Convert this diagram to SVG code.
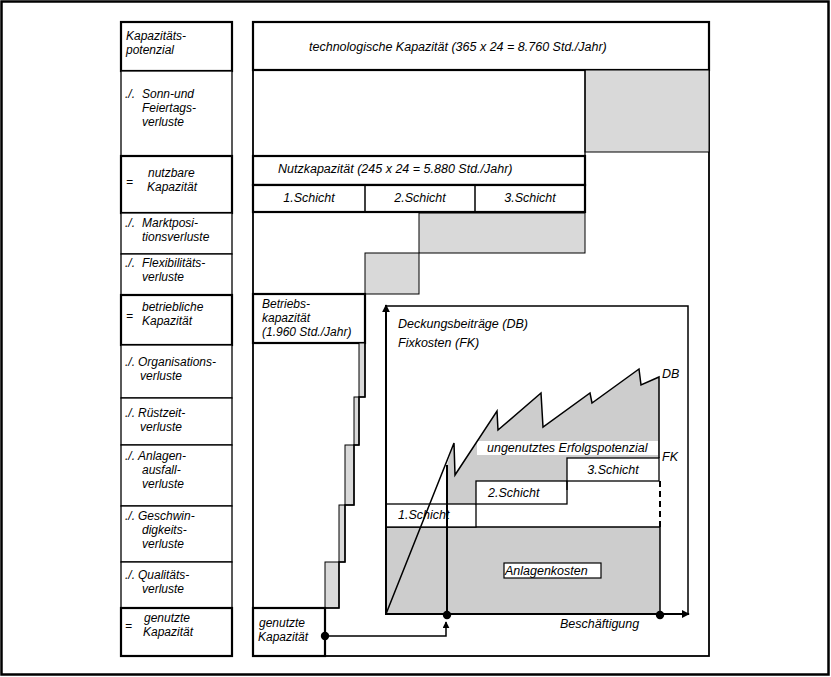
<svg xmlns="http://www.w3.org/2000/svg" width="831" height="677" viewBox="0 0 831 677">
<style>
text{font-family:"Liberation Sans",Arial,sans-serif;font-style:italic;font-size:12px;fill:#000}
.w{font-size:12.5px}
.b{fill:#fff;stroke:#000;stroke-width:1.3}
.t{fill:#fff;stroke:#000;stroke-width:2.2}
.g{fill:#d9d9d9;stroke:#000;stroke-width:1}
.g2{fill:#cdcdcd;stroke:#000;stroke-width:1.5}
.ln{fill:none;stroke:#000;stroke-width:1.5}
.c{text-anchor:middle}
</style>
<defs>
<marker id="ah" viewBox="0 0 10 10" refX="9" refY="5" markerWidth="8" markerHeight="8" markerUnits="userSpaceOnUse" orient="auto">
<path d="M0,0 L10,5 L0,10 Z" fill="#000"/>
</marker>
<marker id="ahs" viewBox="0 0 10 10" refX="9" refY="5" markerWidth="7" markerHeight="7" markerUnits="userSpaceOnUse" orient="auto">
<path d="M0,0 L10,5 L0,10 Z" fill="#000"/>
</marker>
</defs>
<rect x="0" y="0" width="831" height="677" fill="#fff"/>
<rect x="1.5" y="1.5" width="827" height="673" fill="none" stroke="#000" stroke-width="2.5"/>

<!-- left column -->
<g id="l-kapazitaetspotenzial">
<rect class="t" x="121" y="22" width="111" height="49"/>
<text x="126" y="40">Kapazitäts-</text>
<text x="126" y="54">potenzial</text>
</g>
<g id="l-sonn">
<rect class="b" x="121" y="71" width="111" height="85"/>
<text x="125" y="98">./.</text>
<text x="142" y="98">Sonn-und</text>
<text x="142" y="112">Feiertags-</text>
<text x="142" y="126">verluste</text>
</g>
<g id="l-nutzbare">
<rect class="t" x="121" y="156" width="111" height="57"/>
<text x="126" y="186">=</text>
<text x="148" y="177">nutzbare</text>
<text x="147" y="191">Kapazität</text>
</g>
<g id="l-markt">
<rect class="b" x="121" y="213" width="111" height="41"/>
<text x="125" y="227">./.</text>
<text x="142" y="227">Marktposi-</text>
<text x="142" y="241">tionsverluste</text>
</g>
<g id="l-flex">
<rect class="b" x="121" y="254" width="111" height="41"/>
<text x="125" y="267">./.</text>
<text x="142" y="267">Flexibilitäts-</text>
<text x="142" y="281">verluste</text>
</g>
<g id="l-betriebliche">
<rect class="t" x="121" y="295" width="111" height="50"/>
<text x="126" y="320">=</text>
<text x="142" y="311">betriebliche</text>
<text x="142" y="325">Kapazität</text>
</g>
<g id="l-organisation">
<rect class="b" x="121" y="345" width="111" height="53"/>
<text x="125" y="366">./.</text>
<text x="138" y="366">Organisations-</text>
<text x="140" y="380">verluste</text>
</g>
<g id="l-ruestzeit">
<rect class="b" x="121" y="398" width="111" height="47"/>
<text x="125" y="417">./.</text>
<text x="138" y="417">Rüstzeit-</text>
<text x="140" y="431">verluste</text>
</g>
<g id="l-anlagen">
<rect class="b" x="121" y="445" width="111" height="61"/>
<text x="125" y="460">./.</text>
<text x="138" y="460">Anlagen-</text>
<text x="142" y="474">ausfall-</text>
<text x="142" y="488">verluste</text>
</g>
<g id="l-geschwin">
<rect class="b" x="121" y="506" width="111" height="56"/>
<text x="125" y="520">./.</text>
<text x="138" y="520">Geschwin-</text>
<text x="142" y="534">digkeits-</text>
<text x="142" y="548">verluste</text>
</g>
<g id="l-qualitaet">
<rect class="b" x="121" y="562" width="111" height="46"/>
<text x="125" y="579">./.</text>
<text x="138" y="579">Qualitäts-</text>
<text x="142" y="593">verluste</text>
</g>
<g id="l-genutzte">
<rect class="t" x="121" y="608" width="111" height="48"/>
<text x="125" y="630">=</text>
<text x="144" y="622">genutzte</text>
<text x="143" y="636">Kapazität</text>
</g>

<!-- right main box -->
<g id="main">
<rect x="253" y="22" width="456" height="634" fill="#fff" stroke="#000" stroke-width="1.8"/>
</g>
<g id="technologische">
<rect class="t" x="253" y="22" width="456" height="48"/>
<text class="w" x="309" y="51">technologische Kapazität (365 x 24 = 8.760 Std./Jahr)</text>
</g>
<g id="sonn-verlust">
<rect class="g" x="585" y="70" width="124" height="82" stroke="none"/>
<line x1="585" y1="70" x2="585" y2="156" stroke="#000" stroke-width="1.3"/>
</g>
<g id="nutzkapazitaet">
<rect class="t" x="253" y="156" width="332" height="29"/>
<rect class="t" x="253" y="185" width="332" height="27"/>
<line x1="365" y1="185" x2="365" y2="212" stroke="#000" stroke-width="1.5"/>
<line x1="475" y1="185" x2="475" y2="212" stroke="#000" stroke-width="1.5"/>
<text class="w" x="278" y="173">Nutzkapazität (245 x 24 = 5.880 Std./Jahr)</text>
<text class="c w" x="309" y="202">1.Schicht</text>
<text class="c w" x="420" y="202">2.Schicht</text>
<text class="c w" x="530" y="202">3.Schicht</text>
</g>
<g id="markt-verlust">
<rect class="g" x="419" y="213" width="166" height="40"/>
</g>
<g id="flex-verlust">
<rect class="g" x="365" y="253" width="54" height="41"/>
</g>
<g id="betriebskapazitaet">
<rect class="t" x="253" y="294" width="112" height="49"/>
<text x="262" y="308">Betriebs-</text>
<text x="262" y="322">kapazität</text>
<text x="262" y="336">(1.960 Std./Jahr)</text>
</g>
<g id="stufen">
<rect class="g" x="359" y="343" width="6" height="54"/>
<rect class="g" x="354" y="397" width="5" height="48"/>
<rect class="g" x="345" y="445" width="9" height="60"/>
<rect class="g" x="339" y="505" width="6" height="57"/>
<rect class="g" x="325" y="562" width="14" height="46"/>
<path class="ln" d="M365,343 V397 H359 V445 H354 V505 H345 V562 H339 V608 H325"/>
</g>
<g id="genutzte-kapazitaet">
<rect class="t" x="253" y="608" width="72" height="48"/>
<text x="259" y="627">genutzte</text>
<text x="258" y="641">Kapazität</text>
</g>

<!-- chart -->
<g id="chart-frame">
<path class="ln" d="M386,306 H688 V614"/>
</g>
<g id="ungenutzt">
<polygon points="447,465 454,443 455,475 497,411 498,430 541,393 543,427 590,393 592,403 639,369 641,385 659,377 659,458 567,458 567,481 476,481 476,504 447,504" fill="#cdcdcd"/>
<rect x="477" y="441" width="181" height="14" fill="#fff"/>
<text class="w" x="487" y="452">ungenutztes Erfolgspotenzial</text>
</g>
<g id="anlagenkosten">
<rect class="g2" x="386" y="527" width="274" height="87"/>
<rect x="504" y="563" width="97" height="15" fill="#fff" stroke="#000" stroke-width="1.2"/>
<text class="w" x="505" y="575">Anlagenkosten</text>
</g>
<g id="schicht1">
<rect class="b" x="386" y="504" width="90" height="23"/>
<text class="w" x="398" y="519">1.Schicht</text>
</g>
<g id="schicht2">
<rect class="b" x="476" y="481" width="91" height="23"/>
<text class="w" x="488" y="497">2.Schicht</text>
</g>
<g id="schicht3">
<rect class="b" x="567" y="458" width="92" height="23"/>
<text class="c w" x="613" y="474">3.Schicht</text>
</g>
<g id="connectors">
<line x1="567" y1="481" x2="567" y2="490" stroke="#000" stroke-width="1.3"/>
<line x1="660" y1="481" x2="660" y2="527" stroke="#000" stroke-width="2" stroke-dasharray="6,4"/>
<path class="ln" d="M386,614 L454,443 L455,475 L497,411 L498,430 L541,393 L543,427 L590,393 L592,403 L639,369 L641,385 L659,377 L659,458"/>
<line x1="447" y1="465" x2="447" y2="615" stroke="#000" stroke-width="2"/>
<line x1="386" y1="615" x2="386" y2="305" stroke="#000" stroke-width="2" marker-end="url(#ah)"/>
<line x1="386" y1="614" x2="689" y2="614" stroke="#000" stroke-width="2" marker-end="url(#ah)"/>
<path class="ln" d="M325,636 H446 V622" marker-end="url(#ahs)"/>
<circle cx="447" cy="615" r="4.2" fill="#000"/>
<circle cx="660" cy="615" r="4.2" fill="#000"/>
<circle cx="325" cy="636" r="4.2" fill="#000"/>
</g>
<g id="labels">
<text class="w" x="398" y="328">Deckungsbeiträge (DB)</text>
<text class="w" x="398" y="347">Fixkosten (FK)</text>
<text class="w" x="662" y="378">DB</text>
<text class="w" x="662" y="461">FK</text>
<text class="w" x="560" y="628">Beschäftigung</text>
</g>
</svg>
